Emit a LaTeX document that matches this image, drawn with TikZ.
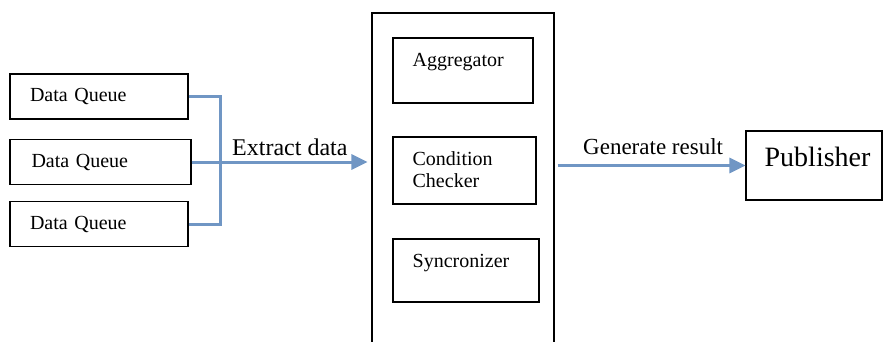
\documentclass[tikz,border=0pt]{standalone}
\usepackage{fontspec}
\setmainfont{Liberation Serif}
\usepackage{tikz}
\usetikzlibrary{positioning, arrows.meta}
\definecolor{flowblue}{RGB}{112,150,196}

\begin{document}
\begin{tikzpicture}[
        x=1pt, y=-1pt,
        box/.style={draw, line width=1.1pt, inner sep=0pt}, % Box style
        qbox/.style={box, minimum height=45pt, text width=138pt, inner xsep=20pt, align=left, font=\fontsize{20}{24}\selectfont}, % Queue style
        txt/.style={inner sep=0pt, font=\fontsize{20}{22}\selectfont, align=left}, % Inner text style
        link/.style={flowblue, line width=3pt}, % Connector style
        flow/.style={link, -{Triangle[length=16pt,width=15pt]}} % Arrow style
    ]
    \clip (0,0) rectangle (896,341);

    % Data queues
    \node (q1) [qbox, minimum width=178pt] at (99,96.5) {Data Queue};
    \node (q2) [qbox, minimum width=181pt] at (100.5,162) {Data Queue};
    \node (q3) [qbox, minimum width=178pt] at (99,224) {Data Queue};

    % Processing unit
    \node (unit) [box, minimum width=182pt, minimum height=340pt] at (463,183) {};
    \node (agg) [box, minimum width=140pt, minimum height=65pt] at (463,70.5) {};
    \node (chk) [box, minimum width=143pt, minimum height=67pt] at (464.5,170.5) {};
    \node (syn) [box, minimum width=146pt, minimum height=63pt] at (466,270.5) {};
    \node (aggtxt) [txt, anchor=base west] at ([xshift=20pt, yshift=-29pt]agg.north west) {Aggregator};
    \node (chktxt) [txt, anchor=north west] at ([xshift=20pt, yshift=-15pt]chk.north west) {Condition\\Checker};
    \node (syntxt) [txt, anchor=base west] at ([xshift=20pt, yshift=-29pt]syn.north west) {Syncronizer};

    % Publisher
    \node (pub) [box, minimum width=136pt, minimum height=69pt] at (814,165.5) {};
    \node (pubtxt) [txt, anchor=base west, font=\fontsize{28}{30}\selectfont] at ([xshift=19pt, yshift=-36pt]pub.north west) {Publisher};

    % Connections
    \coordinate (jn) at (220,158);
    \draw[link] (q1.east) -| (jn) |- (q3.east);
    \draw[flow] (q2.east) -- ([xshift=-4pt]q2.east -| unit.west);
    \draw[flow] ([xshift=3pt]unit.east |- pub.west) -- (pub.west);

    % Labels
    \node (extract) [txt, anchor=base west, font=\fontsize{24}{26}\selectfont] at (232,155) {Extract data};
    \node (result) [txt, anchor=base west, font=\fontsize{23}{26}\selectfont] at (583,154) {Generate result};

    \end{tikzpicture}
\end{document}
